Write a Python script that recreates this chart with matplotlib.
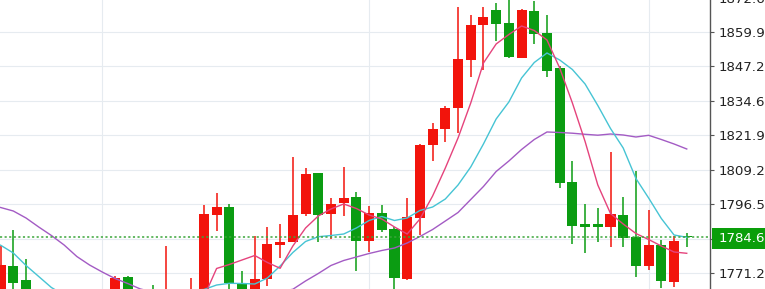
import matplotlib
matplotlib.use("Agg")
import matplotlib.pyplot as plt
from matplotlib.patches import Rectangle
import numpy as np

# ---- data ----
opens = [1761.41, 1773.91, 1768.76, 1761.41, 1759.57, 1757.00, 1760.31, 1757.73, 1754.79, 1761.41,
         1769.98, 1762.15, 1764.72, 1759.57, 1764.35, 1761.41, 1764.35, 1792.66, 1795.71, 1767.18,
         1763.25, 1768.95, 1781.63, 1782.84, 1793.03, 1807.99, 1792.92, 1796.96, 1799.39, 1783.21,
         1793.51, 1787.52, 1769.02, 1791.45, 1818.40, 1824.28, 1832.11, 1849.65, 1862.51, 1868.03,
         1863.14, 1850.27, 1867.77, 1859.46, 1846.59, 1804.69, 1789.24, 1789.35, 1788.36, 1792.66,
         1784.75, 1774.02, 1781.63, 1767.92, 1784.85]
highs = [1781.26, 1787.15, 1776.37, 1764.35, 1762.88, 1762.15, 1762.51, 1761.41, 1763.25, 1770.23,
         1770.23, 1763.98, 1766.92, 1781.37, 1765.09, 1769.39, 1796.34, 1800.64, 1796.60, 1772.07,
         1784.94, 1788.36, 1789.35, 1813.98, 1810.05, 1808.21, 1798.91, 1810.49, 1801.12, 1795.97,
         1796.34, 1788.36, 1798.80, 1818.58, 1826.59, 1832.73, 1869.02, 1866.19, 1869.02, 1870.71,
         1872.81, 1868.40, 1871.34, 1866.19, 1847.44, 1812.51, 1796.60, 1795.12, 1815.71, 1799.39,
         1808.95, 1794.32, 1783.47, 1785.12, 1785.86]
lows = [1760.68, 1763.98, 1761.41, 1757.73, 1755.53, 1756.27, 1755.90, 1753.32, 1754.06, 1760.68,
        1760.31, 1757.73, 1759.57, 1758.47, 1759.21, 1760.31, 1762.88, 1786.89, 1764.35, 1762.15,
        1762.15, 1766.74, 1776.67, 1782.55, 1792.29, 1782.73, 1783.73, 1792.29, 1771.89, 1779.17,
        1786.30, 1764.35, 1768.76, 1785.31, 1812.62, 1819.61, 1822.70, 1843.51, 1845.97, 1856.74,
        1850.38, 1850.20, 1855.53, 1843.51, 1802.48, 1782.00, 1778.58, 1782.84, 1780.79, 1780.79,
        1769.98, 1772.44, 1765.71, 1766.30, 1781.00]
closes = [1774.28, 1767.77, 1762.88, 1759.57, 1757.00, 1760.31, 1757.73, 1754.79, 1761.41, 1769.61,
          1762.15, 1759.21, 1761.41, 1764.35, 1761.41, 1764.35, 1792.92, 1795.71, 1767.55, 1763.25,
          1769.13, 1781.89, 1782.73, 1792.66, 1807.85, 1792.66, 1796.71, 1798.80, 1783.21, 1793.29,
          1787.15, 1769.39, 1791.81, 1818.40, 1824.17, 1832.11, 1849.90, 1862.51, 1865.35, 1862.88,
          1850.64, 1868.03, 1859.09, 1845.71, 1804.32, 1788.73, 1788.14, 1788.14, 1792.92, 1784.32,
          1774.02, 1781.63, 1768.40, 1783.21, 1784.68]

ma5 = [1764.71, 1763.25, 1760.68, 1758.47, 1757.00, 1756.27, 1756.63, 1757.00, 1757.73, 1759.21,
       1759.94, 1759.94, 1759.94, 1760.31, 1760.68, 1761.41, 1762.51, 1773.00, 1774.46, 1776.12,
       1777.77, 1775.20, 1773.07, 1781.26, 1787.88, 1792.29, 1794.87, 1796.71, 1795.05, 1792.66,
       1791.19, 1788.25, 1785.67, 1791.19, 1799.65, 1809.94, 1820.97, 1833.84, 1848.54, 1855.53,
       1859.02, 1862.15, 1860.49, 1857.00, 1846.71, 1833.84, 1819.68, 1803.69, 1793.21, 1789.35,
       1785.86, 1783.65, 1781.26, 1779.06, 1778.58]
ma10 = [1781.56, 1778.69, 1774.10, 1770.05, 1766.00, 1763.25, 1761.41, 1760.31, 1759.57, 1759.57,
        1759.94, 1760.68, 1761.78, 1762.88, 1763.98, 1765.09, 1765.27, 1766.92, 1767.55, 1767.48,
        1767.29, 1769.50, 1773.91, 1778.87, 1782.92, 1784.68, 1785.12, 1785.67, 1787.88, 1790.64,
        1792.11, 1790.64, 1791.56, 1794.32, 1795.60, 1798.54, 1803.69, 1810.31, 1818.77, 1827.96,
        1834.21, 1843.03, 1848.73, 1852.22, 1849.65, 1846.15, 1840.82, 1832.92, 1824.46, 1817.29,
        1806.08, 1798.91, 1791.37, 1785.31, 1784.46]
ma20 = [1795.42, 1794.13, 1791.56, 1788.25, 1785.12, 1781.63, 1777.40, 1774.28, 1771.70, 1769.32,
        1767.48, 1765.46, 1764.35, 1763.25, 1762.51, 1762.15, 1762.15, 1762.51, 1762.88, 1763.25,
        1763.80, 1764.35, 1764.54, 1765.35, 1768.40, 1771.15, 1774.10, 1775.93, 1777.22, 1778.51,
        1779.61, 1780.53, 1782.37, 1784.75, 1787.33, 1790.45, 1793.58, 1798.36, 1803.14, 1808.66,
        1812.51, 1816.74, 1820.42, 1823.18, 1822.99, 1822.73, 1822.33, 1822.00, 1822.44, 1822.07,
        1821.34, 1821.96, 1820.42, 1818.77, 1816.93]

ytick_values = [1771.23, 1783.90, 1796.58, 1809.25, 1821.92, 1834.60, 1847.27, 1859.94, 1872.61]
# the 1783.90 label is hidden behind the last-price tag in the reference
ytick_labels = ["1771.23", "", "1796.58", "1809.25", "1821.92", "1834.60", "1847.27", "1859.94", "1872.61"]
vgrid_idx = [8, 29, 51]
last_price = 1784.68
last_label = "1784.68"

# ---- styling ----
UP = "#f2140c"
DOWN = "#0b9c12"
W, H = 765, 289
fig = plt.figure(figsize=(W / 100, H / 100), dpi=100)
fig.patch.set_facecolor("white")

ax_left, ax_right = 0, 710
ax_top, ax_bot = -10, 300
ax = fig.add_axes([ax_left / W, (H - ax_bot) / H, (ax_right - ax_left) / W, (ax_bot - ax_top) / H])
ax.set_facecolor("white")

n = len(closes)
x = np.arange(n)
o = np.array(opens); c = np.array(closes); h = np.array(highs); l = np.array(lows)
up = c >= o
cols = np.where(up, UP, DOWN)

# grid
for v in ytick_values:
    ax.axhline(v, color="#e6ebf0", lw=0.8, zorder=0)
for i in vgrid_idx:
    ax.axvline(i, color="#e6ebf0", lw=0.8, zorder=0)

# wicks
ax.vlines(x, l, h, colors=cols, lw=1.1, zorder=2)
# bodies
bottoms = np.minimum(o, c)
heights = np.maximum(np.abs(c - o), 0.35)
ax.bar(x, heights, bottom=bottoms, width=0.79, color=cols, edgecolor=cols, lw=0.0, zorder=3)

# moving averages
ax.plot(x, ma20, color="#a35bc4", lw=1.0, zorder=4)
ax.plot(x, ma10, color="#46c4d4", lw=1.0, zorder=4)
ax.plot(x, ma5, color="#e5437c", lw=1.0, zorder=4)

# last price dotted line
ax.axhline(last_price, color="#3aa63a", lw=1.1, ls=(0, (1.4, 1.6)), zorder=5)

# axes
ax.set_xlim(-0.047, 55.83)
ax.set_ylim(1761.41, 1875.38)
for s in ["left", "top", "bottom"]:
    ax.spines[s].set_visible(False)
ax.spines["right"].set_color("#555555")
ax.spines["right"].set_linewidth(1.0)
ax.set_xticks([])
ax.yaxis.tick_right()
ax.set_yticks(ytick_values)
ax.set_yticklabels(ytick_labels)
ax.tick_params(axis="y", direction="out", length=3.0, width=0.8, color="#555555",
               pad=3.0, labelsize=9.6, labelcolor="#222222")

# last price tag
y_center_px = 238.6
rect = Rectangle((711.5 / W, (H - y_center_px - 10.5) / H), 60 / W, 21 / H,
                 transform=fig.transFigure, facecolor="#0a9e0a", edgecolor="none", zorder=10)
fig.patches.append(rect)
fig.text(718.3 / W, (H - y_center_px) / H, last_label, color="white", fontsize=9.6,
         va="center", ha="left", zorder=11)

fig.savefig("out.png", dpi=100, facecolor="white")
